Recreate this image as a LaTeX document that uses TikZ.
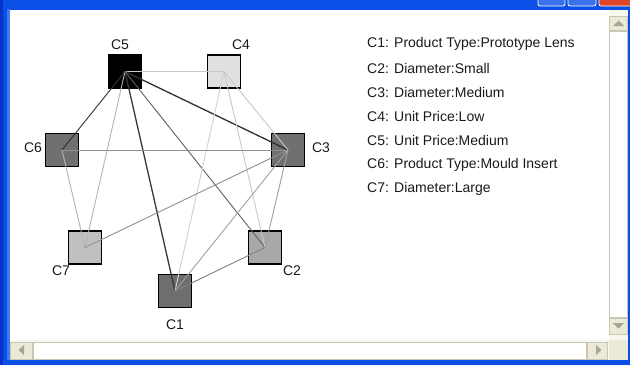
\documentclass[tikz,border=0pt]{standalone}
\usepackage{fontspec}
\setmainfont{Liberation Sans}
\definecolor{xpblue}{HTML}{0A4FE6}
\definecolor{xpdark}{HTML}{0832C8}
\definecolor{xplite}{HTML}{3C7DF5}
\definecolor{xpred}{HTML}{E0452A}
\definecolor{beige}{HTML}{ECE9D8}
\definecolor{sbborder}{HTML}{C9C6B6}
\definecolor{arrowgray}{HTML}{A8A595}
\definecolor{txt}{HTML}{1A1A1A}
\tikzset{
  cat/.style={draw=black, line width=1.1pt, minimum size=33pt, inner sep=0pt, outer sep=0pt},
  lbl/.style={font=\fontsize{14}{16}\selectfont, text=txt, inner sep=0pt},
  leg/.style={font=\fontsize{14}{16}\selectfont, text=txt, inner sep=0pt, anchor=west},
  edge/.style={line width=0.9pt},
  sbtn/.style={fill=beige, draw=sbborder, line width=0.6pt},
}
\begin{document}
\begin{tikzpicture}[x=1pt,y=-1pt]
\useasboundingbox (0,0) rectangle (630,365);
% window frame
\fill[xpblue] (0,0) rectangle (630,365);
\fill[xpdark] (0,0) rectangle (3,365);
\fill[xplite] (7,9) rectangle (10,360);
\fill[white] (10,10) rectangle (628,360);
% title buttons
\fill[xpblue!80!white, rounded corners=2pt] (538,-4) rectangle (565,6);
\fill[xpblue!80!white, rounded corners=2pt] (568,-4) rectangle (596,6);
\fill[xpred, rounded corners=2pt] (599,-4) rectangle (634,6);
\draw[white, line width=0.8pt, rounded corners=2pt] (538,-4) rectangle (565,6);
\draw[white, line width=0.8pt, rounded corners=2pt] (568,-4) rectangle (596,6);
\draw[white, line width=0.8pt, rounded corners=2pt] (599,-4) rectangle (634,6);
% vertical scrollbar
\fill[beige!40!white] (609,10) rectangle (628,340);
\draw[sbtn] (609.5,16) rectangle (627.5,30);
\fill[arrowgray] (613,26) -- (624,26) -- (618.5,20.5) -- cycle;
\draw[fill=white, draw=sbborder, line width=0.6pt] (609.5,31) rectangle (627.5,317);
\draw[sbtn] (609.5,318) rectangle (627.5,334);
\fill[arrowgray] (613,323) -- (624,323) -- (618.5,328.5) -- cycle;
% horizontal scrollbar
\fill[beige!40!white] (10,340) rectangle (609,360);
\draw[sbtn] (10.5,342) rectangle (32.5,359);
\fill[arrowgray] (24,345) -- (24,355) -- (18.5,350) -- cycle;
\draw[fill=white, draw=sbborder, line width=0.6pt] (33.5,342) rectangle (586.5,359);
\draw[sbtn] (587.5,342) rectangle (607.5,359);
\fill[arrowgray] (596,345) -- (596,355) -- (601.5,350) -- cycle;
\fill[beige] (609,340) rectangle (628,360);
% category nodes
\node[cat, fill=black] (c5) at (125,71.5) {};
\node[cat, fill={rgb,255:red,224;green,224;blue,224}] (c4) at (224,71.5) {};
\node[cat, fill={rgb,255:red,112;green,112;blue,112}] (c6) at (62,150) {};
\node[cat, fill={rgb,255:red,112;green,112;blue,112}] (c3) at (288,150) {};
\node[cat, fill={rgb,255:red,192;green,192;blue,192}] (c7) at (85,247.5) {};
\node[cat, fill={rgb,255:red,168;green,168;blue,168}] (c2) at (265,247.5) {};
\node[cat, fill={rgb,255:red,110;green,110;blue,110}] (c1) at (175,291) {};
% edges
\draw[edge, color={rgb,255:red,200;green,200;blue,200}] (c5.center) -- (c4.center);
\draw[edge, line width=1.3pt, color={rgb,255:red,48;green,48;blue,48}] (c5.center) -- (c3.center);
\draw[edge, color={rgb,255:red,48;green,48;blue,48}] (c5.center) -- (c6.center);
\draw[edge, color={rgb,255:red,180;green,180;blue,180}] (c5.center) -- (c7.center);
\draw[edge, line width=1.3pt, color={rgb,255:red,56;green,56;blue,56}] (c5.center) -- (c1.center);
\draw[edge, color={rgb,255:red,96;green,96;blue,96}] (c5.center) -- (c2.center);
\draw[edge, color={rgb,255:red,208;green,208;blue,208}] (c4.center) -- (c1.center);
\draw[edge, color={rgb,255:red,200;green,200;blue,200}] (c4.center) -- (c2.center);
\draw[edge, color={rgb,255:red,200;green,200;blue,200}] (c4.center) -- (c3.center);
\draw[edge, color={rgb,255:red,144;green,144;blue,144}] (c6.center) -- (c3.center);
\draw[edge, color={rgb,255:red,180;green,180;blue,180}] (c6.center) -- (c7.center);
\draw[edge, color={rgb,255:red,144;green,144;blue,144}] (c3.center) -- (c7.center);
\draw[edge, color={rgb,255:red,160;green,160;blue,160}] (c3.center) -- (c1.center);
\draw[edge, color={rgb,255:red,160;green,160;blue,160}] (c3.center) -- (c2.center);
\draw[edge, color={rgb,255:red,128;green,128;blue,128}] (c2.center) -- (c1.center);
% node labels
\node[lbl] (lc5) at (120,45) {C5};
\node[lbl] (lc4) at (241,45) {C4};
\node[lbl] (lc6) at (33,148) {C6};
\node[lbl] (lc3) at (321,148) {C3};
\node[lbl] (lc7) at (61,271) {C7};
\node[lbl] (lc2) at (292,271) {C2};
\node[lbl] (lc1) at (175,325) {C1};
% legend
\node[leg] (g1) at (367,44) {C1: Product Type:Prototype Lens};
\node[leg] (g2) at (367,68) {C2: Diameter:Small};
\node[leg] (g3) at (367,92.5) {C3: Diameter:Medium};
\node[leg] (g4) at (367,116.5) {C4: Unit Price:Low};
\node[leg] (g5) at (367,140.5) {C5: Unit Price:Medium};
\node[leg] (g6) at (367,165) {C6: Product Type:Mould Insert};
\node[leg] (g7) at (367,189) {C7: Diameter:Large};
\end{tikzpicture}
\end{document}
